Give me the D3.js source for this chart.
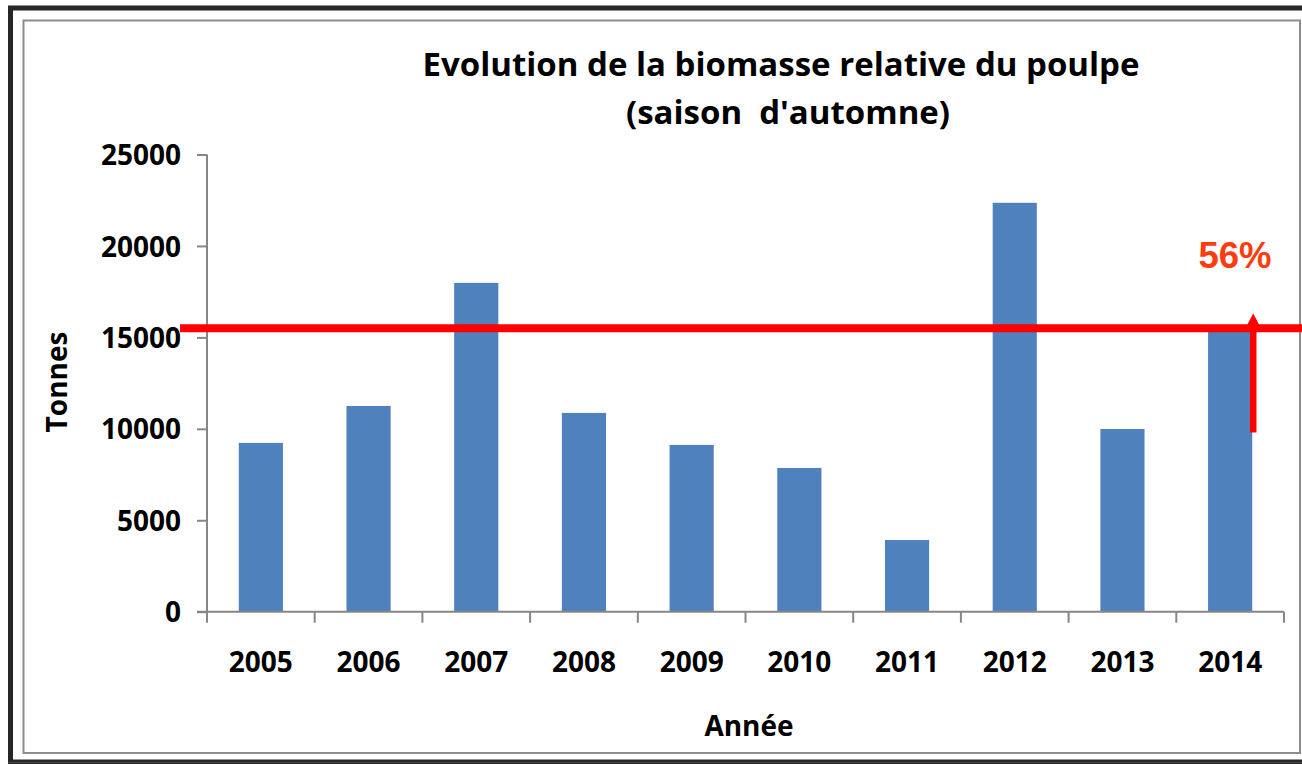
<!DOCTYPE html>
<html>
<head>
<meta charset="utf-8">
<script src="https://cdn.jsdelivr.net/npm/d3@7/dist/d3.min.js"></script>
<style>
  body { margin: 0; background: #fff; }
  svg { display: block; }
  text { font-family: "Open Sans", "DejaVu Sans", sans-serif; font-weight: bold; white-space: pre; }
</style>
</head>
<body>
<svg id="chart" width="1302" height="764"></svg>
<script>
const years = ["2005", "2006", "2007", "2008", "2009", "2010", "2011", "2012", "2013", "2014"];
const biomass = [9230, 11250, 17980, 10870, 9120, 7860, 3920, 22360, 9990, 15320];
const yTicks = [0, 5000, 10000, 15000, 20000, 25000];
const titleLines = ["Evolution de la biomasse relative du poulpe", "(saison  d'automne)"];
const threshold = 15500;
const arrowRange = [9800, 16300];
const pctLabel = "56%";

const svg = d3.select("#chart");
const margin = {left: 207, right: 18, top: 154.5, bottom: 152.3};
const W = 1302, H = 764;

// frames
svg.append("rect").attr("x", 10.5).attr("y", 8).attr("width", 1300).attr("height", 754)
  .attr("fill", "none").attr("stroke", "#262626").attr("stroke-width", 5);
svg.append("line").attr("x1", 8).attr("x2", 1302).attr("y1", 762.5).attr("y2", 762.5)
  .attr("stroke", "#404040").attr("stroke-width", 1.5);
svg.append("rect").attr("x", 23.5).attr("y", 20.5).attr("width", 1276.5).attr("height", 732.5)
  .attr("fill", "#fff").attr("stroke", "#8c8c8c").attr("stroke-width", 2);

const x = d3.scaleBand().domain(years).range([margin.left, W - margin.right]).paddingInner(0.59).paddingOuter(0.295);
const y = d3.scaleLinear().domain([0, 25000]).range([H - margin.bottom, margin.top]);

// title
svg.append("text").attr("text-anchor", "middle")
  .attr("font-size", 33)
  .selectAll("tspan").data(titleLines).join("tspan")
  .attr("x", (d, i) => i ? 788 : 781).attr("y", (d, i) => 76 + i * 48).text(d => d);

// bars
svg.append("g").selectAll("rect").data(biomass).join("rect")
  .attr("x", (d, i) => x(years[i]))
  .attr("width", x.bandwidth())
  .attr("y", d => y(d))
  .attr("height", d => y(0) - y(d))
  .attr("fill", "#4f81bd");

// y axis
const yAxis = svg.append("g").attr("transform", `translate(${margin.left},0)`)
  .call(d3.axisLeft(y).tickValues(yTicks).tickSize(10).tickPadding(16).tickFormat(d3.format("d")));
yAxis.select(".domain").attr("stroke", "#868686").attr("stroke-width", 2).attr("d", `M0,${y(25000)}V${y(0)}`);
yAxis.selectAll(".tick line").attr("stroke", "#868686").attr("stroke-width", 2);
yAxis.selectAll(".tick text").attr("font-size", 28).attr("fill", "#000").attr("dy", "0.36em")
  .style("font-family", "'Open Sans', sans-serif").style("font-weight", "bold");

// x axis
const step = x.step();
const xAxisG = svg.append("g").attr("transform", `translate(0,${y(0)})`);
xAxisG.append("line").attr("x1", margin.left - 10).attr("x2", W - margin.right)
  .attr("stroke", "#868686").attr("stroke-width", 2);
xAxisG.selectAll("line.tk").data(d3.range(years.length + 1)).join("line").attr("class", "tk")
  .attr("x1", i => margin.left + i * step).attr("x2", i => margin.left + i * step)
  .attr("y1", 0).attr("y2", 11).attr("stroke", "#868686").attr("stroke-width", 2);
xAxisG.selectAll("text").data(years).join("text")
  .attr("x", d => x(d) + x.bandwidth() / 2).attr("y", 60)
  .attr("text-anchor", "middle").attr("font-size", 28).text(d => d);

// axis titles
svg.append("text").attr("transform", "translate(67,382) rotate(-90)")
  .attr("text-anchor", "middle").attr("font-size", 28).text("Tonnes");
svg.append("text").attr("x", 749).attr("y", 736)
  .attr("text-anchor", "middle").attr("font-size", 28).text("Année");

// threshold line
svg.append("line").attr("x1", 180).attr("x2", W).attr("y1", y(threshold)).attr("y2", y(threshold))
  .attr("stroke", "#ff0000").attr("stroke-width", 8);

// arrow
const ax = x("2014") + x.bandwidth() + 1;
svg.append("line").attr("x1", ax).attr("x2", ax)
  .attr("y1", y(arrowRange[0])).attr("y2", y(arrowRange[1]) + 14)
  .attr("stroke", "#ff0000").attr("stroke-width", 6.5);
svg.append("path")
  .attr("d", `M${ax},${y(arrowRange[1])}L${ax - 9.5},${y(arrowRange[1]) + 18}L${ax + 9.5},${y(arrowRange[1]) + 18}Z`)
  .attr("fill", "#ff0000");

svg.append("text").attr("x", 1235).attr("y", 268).attr("text-anchor", "middle")
  .attr("font-size", 36.5).attr("fill", "#ff3c0f")
  .style("font-family", "'Liberation Sans', Arial, sans-serif").text(pctLabel);
</script>
</body>
</html>
